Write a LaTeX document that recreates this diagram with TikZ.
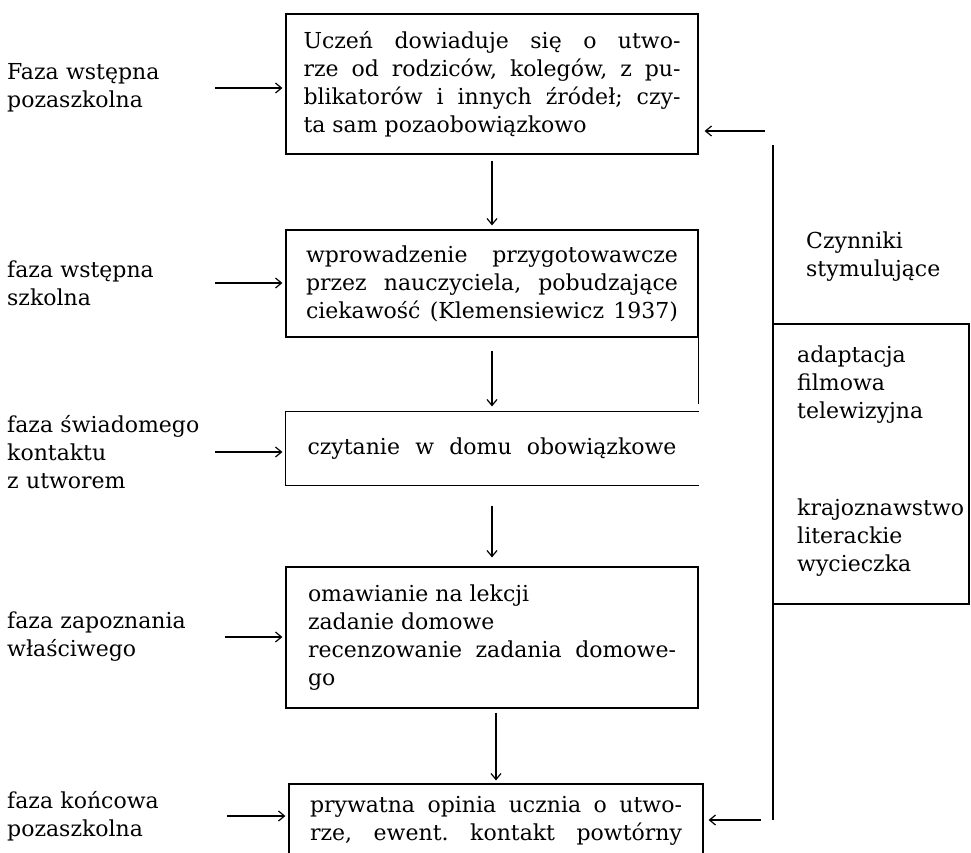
\documentclass[tikz,border=0pt]{standalone}
\usepackage{fontspec}
\setmainfont{DejaVu Serif}
\usetikzlibrary{arrows.meta}
\frenchspacing

\newcommand{\jline}[2][372pt]{\makebox[#1][s]{#2}}

\tikzset{
    phasebox/.style={draw, line width=1.2pt, minimum width=412pt, inner sep=0pt, align=left, font=\fontsize{22}{28}\selectfont},
    phaselabel/.style={anchor=west, text width=208pt, inner sep=0pt, align=left, font=\fontsize{22}{28}\selectfont},
    sidetext/.style={anchor=west, inner sep=0pt, align=left, font=\fontsize{22}{28}\selectfont},
    flow/.style={->, line width=1.2pt, shorten >=3pt},
    rule/.style={line width=1.2pt}
}

\begin{document}
\begin{tikzpicture}[x=1pt,y=-1pt,>={Straight Barb[length=6pt,width=10pt]}]
    \useasboundingbox (0,0) rectangle (971,852);
    \clip (0,0) rectangle (971,852);

    % Bloki faz
    \node[phasebox, minimum height=140pt] (uczen) at (492,84) {\jline[377pt]{Uczeń dowiaduje się o utwo-}\\\jline[377pt]{rze od rodziców, kolegów, z pu-}\\\jline[377pt]{blikatorów i innych źródeł; czy-}\\ta sam pozaobowiązkowo};
    \node[phasebox, minimum height=107pt] (wprow) at (492,283.5) {\jline{wprowadzenie przygotowawcze}\\\jline{przez nauczyciela, pobudzające}\\\jline{ciekawość (Klemensiewicz 1937)}};
    \node[phasebox, draw=none, minimum height=73pt] (czyt) at (492,448.5) {\jline[369pt]{czytanie w domu obowiązkowe}};
    \node[phasebox, minimum height=141pt] (omaw) at (492,637.5) {omawianie na lekcji\\zadanie domowe\\\jline[368pt]{recenzowanie zadania domowe-}\\go};
    \node[phasebox, minimum width=414pt, minimum height=74pt] (opinia) at (496,821) {\jline{prywatna opinia ucznia o utwo-}\\\jline{rze, ewent. kontakt powtórny}};

    % Ramka bloku bez prawego boku
    \draw[rule] (czyt.north east) -- (czyt.north west) -- (czyt.south west) -- (czyt.south east);
    \draw[rule] (wprow.south east) -- ++(0,66);

    % Strzalki w dol
    \draw[flow, shorten <=6pt, shorten >=4pt] (uczen.south) -- (wprow.north);
    \draw[flow, shorten <=13pt, shorten >=5pt] (wprow.south) -- (czyt.north);
    \draw[flow, shorten <=20pt, shorten >=9pt] (czyt.south) -- (omaw.north);
    \draw[flow, shorten <=4pt] (opinia.north |- omaw.south) -- (opinia.north);

    % Nazwy faz
    \node[phaselabel] (f1) at (7,88) {Faza wstępna\\pozaszkolna};
    \node[phaselabel] (f2) at (7,283) {faza wstępna\\szkolna};
    \node[phaselabel] (f3) at (7,452) {faza świadomego\\kontaktu\\z utworem};
    \node[phaselabel] (f4) at (7,637) {faza zapoznania\\właściwego};
    \node[phaselabel] (f5) at (7,816) {faza końcowa\\pozaszkolna};

    \draw[flow] (f1.east) -- (f1.east -| uczen.west);
    \draw[flow] (f2.east) -- (f2.east -| wprow.west);
    \draw[flow] (f3.east) -- (f3.east -| czyt.west);
    \draw[flow, shorten <=10pt] (f4.east) -- (f4.east -| omaw.west);
    \draw[flow, shorten <=12pt] (f5.east) -- (f5.east -| opinia.west);

    % Czynniki stymulujace
    \coordinate (topin) at (765,131);
    \coordinate (botin) at (761,820);
    \draw[rule] (773,145) -- (773,820);
    \draw[flow, shorten >=6pt] (topin) -- (topin -| uczen.east);
    \draw[flow, shorten >=5pt] (botin) -- (botin -| opinia.east);

    \node[sidetext] (czynniki) at (806,257) {Czynniki\\stymulujące};
    \node[draw, rule, minimum width=196pt, minimum height=280pt, inner sep=0pt] (srodki) at (871,464) {};
    \node[sidetext] (film) at (797,385) {adaptacja\\filmowa\\telewizyjna};
    \node[sidetext] (kraj) at (797,538) {krajoznawstwo\\literackie\\wycieczka};

\end{tikzpicture}
\end{document}
